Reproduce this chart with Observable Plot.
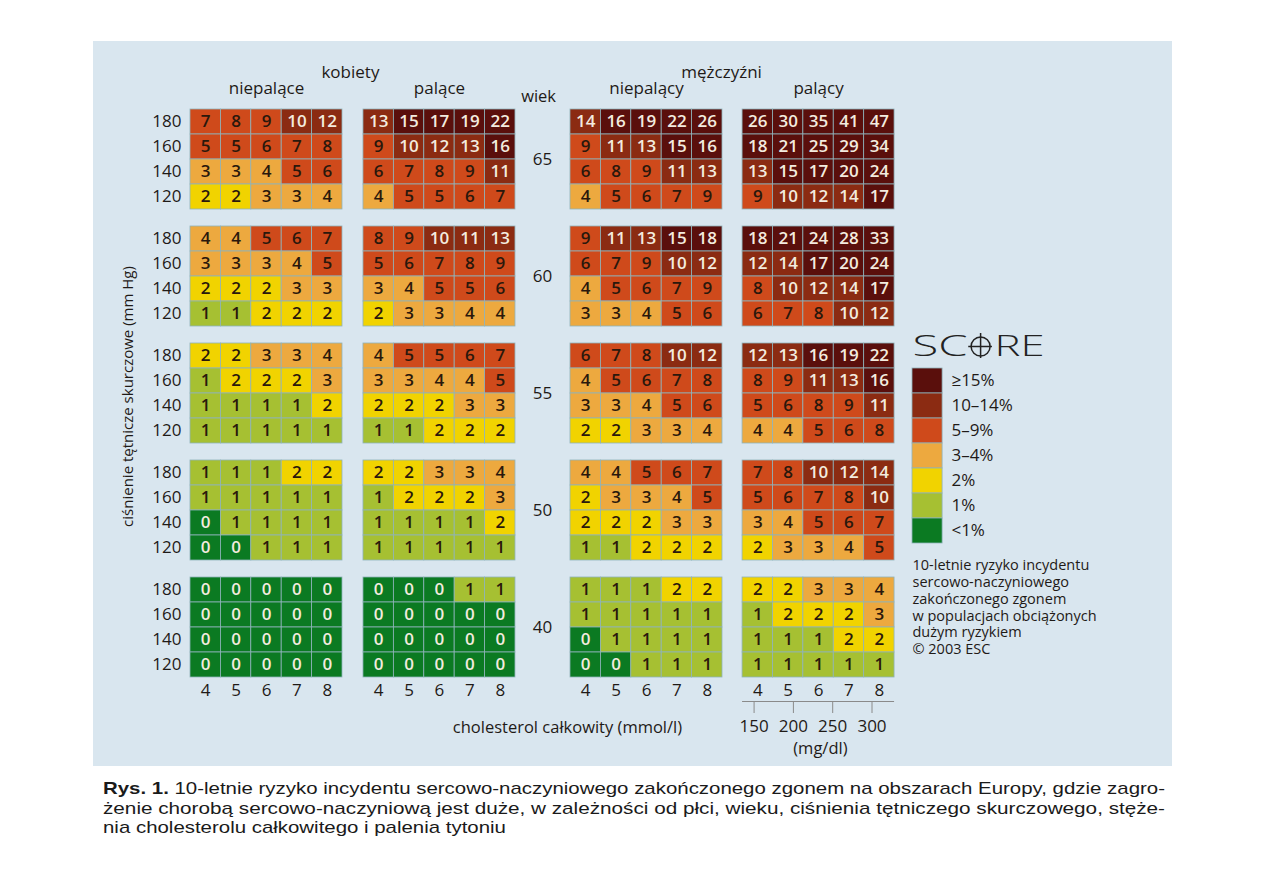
<!DOCTYPE html>
<html><head><meta charset="utf-8">
<script src="https://cdn.jsdelivr.net/npm/d3@7"></script>
<script src="https://cdn.jsdelivr.net/npm/@observablehq/plot@0.6"></script>
<style>
body{margin:0;background:#fff;width:1263px;height:893px;position:relative;overflow:hidden;font-family:"Open Sans",sans-serif}
#panel{position:absolute;left:93px;top:41px;width:1079px;height:725px;background:#d9e6ef}
#caption{position:absolute;left:0;top:770px}
</style></head><body>
<div id="panel"></div>
<svg id="caption" width="1263" height="90">
<g font-family="'Liberation Sans','Arial',sans-serif" font-size="17" fill="#1a1a1a">
<text id="c1" x="103" y="24"><tspan font-weight="bold">Rys. 1.</tspan> 10-letnie ryzyko incydentu sercowo-naczyniowego zakończonego zgonem na obszarach Europy, gdzie zagro-</text>
<text id="c2" x="103" y="44">żenie chorobą sercowo-naczyniową jest duże, w zależności od płci, wieku, ciśnienia tętniczego skurczowego, stęże-</text>
<text id="c3" x="103" y="63">nia cholesterolu całkowitego i palenia tytoniu</text>
</g></svg>
<script>
// ---- data ----
const ages = [65, 60, 55, 50, 40];
const sbp = [180, 160, 140, 120];
const chol = [4, 5, 6, 7, 8];
const groupTitles = ["niepalące", "palące", "niepalący", "palący"];
const sexTitles = ["kobiety", "mężczyźni"];

const womenNonSmoking = [
  [[7,8,9,10,12],[5,5,6,7,8],[3,3,4,5,6],[2,2,3,3,4]],
  [[4,4,5,6,7],[3,3,3,4,5],[2,2,2,3,3],[1,1,2,2,2]],
  [[2,2,3,3,4],[1,2,2,2,3],[1,1,1,1,2],[1,1,1,1,1]],
  [[1,1,1,2,2],[1,1,1,1,1],[0,1,1,1,1],[0,0,1,1,1]],
  [[0,0,0,0,0],[0,0,0,0,0],[0,0,0,0,0],[0,0,0,0,0]]
];
const womenSmoking = [
  [[13,15,17,19,22],[9,10,12,13,16],[6,7,8,9,11],[4,5,5,6,7]],
  [[8,9,10,11,13],[5,6,7,8,9],[3,4,5,5,6],[2,3,3,4,4]],
  [[4,5,5,6,7],[3,3,4,4,5],[2,2,2,3,3],[1,1,2,2,2]],
  [[2,2,3,3,4],[1,2,2,2,3],[1,1,1,1,2],[1,1,1,1,1]],
  [[0,0,0,1,1],[0,0,0,0,0],[0,0,0,0,0],[0,0,0,0,0]]
];
const menNonSmoking = [
  [[14,16,19,22,26],[9,11,13,15,16],[6,8,9,11,13],[4,5,6,7,9]],
  [[9,11,13,15,18],[6,7,9,10,12],[4,5,6,7,9],[3,3,4,5,6]],
  [[6,7,8,10,12],[4,5,6,7,8],[3,3,4,5,6],[2,2,3,3,4]],
  [[4,4,5,6,7],[2,3,3,4,5],[2,2,2,3,3],[1,1,2,2,2]],
  [[1,1,1,2,2],[1,1,1,1,1],[0,1,1,1,1],[0,0,1,1,1]]
];
const menSmoking = [
  [[26,30,35,41,47],[18,21,25,29,34],[13,15,17,20,24],[9,10,12,14,17]],
  [[18,21,24,28,33],[12,14,17,20,24],[8,10,12,14,17],[6,7,8,10,12]],
  [[12,13,16,19,22],[8,9,11,13,16],[5,6,8,9,11],[4,4,5,6,8]],
  [[7,8,10,12,14],[5,6,7,8,10],[3,4,5,6,7],[2,3,3,4,5]],
  [[2,2,3,3,4],[1,2,2,2,3],[1,1,1,2,2],[1,1,1,1,1]]
];

const riskThresholds = [1, 2, 3, 5, 10, 15];
const riskColors = ["#0b7a22", "#a6c032", "#f1d300", "#eda93f", "#cf4a1b", "#8b2b12", "#5a0f0c"];
const legendLabels = ["≥15%", "10–14%", "5–9%", "3–4%", "2%", "1%", "<1%"];
const legendValues = [15, 10, 5, 3, 2, 1, 0];
const mgdlTicks = [150, 200, 250, 300];
const mmolPerMgdl = 1 / 38.67;
const legendText = "10-letnie ryzyko incydentu\nsercowo-naczyniowego\nzakończonego zgonem\nw populacjach obciążonych\ndużym ryzykiem\n© 2003 ESC";

// ---- layout (in cell units) ----
const panelX = [0, 5.69, 12.5, 18.16];
const blockY = [0, 4.68, 9.36, 14.04, 18.72];

const tables = [womenNonSmoking, womenSmoking, menNonSmoking, menSmoking];
const cells = [];
tables.forEach((t, g) => t.forEach((block, a) => block.forEach((row, r) => row.forEach((v, c) =>
  cells.push({g, a, r, c, value: v, age: ages[a], sbp: sbp[r], chol: chol[c]})))));
const isLight = d => d.value >= 10 || d.value === 0;

const sbpLabels = [];
ages.forEach((age, a) => sbp.forEach((s, r) => sbpLabels.push({a, r, s})));
const cholLabels = [];
panelX.forEach((px, g) => chol.forEach((c, i) => cholLabels.push({g, i, c})));
const cholStart = chol[0];

const cx = d => panelX[d.g] + d.c + 0.5;
const cy = d => blockY[d.a] + d.r + 0.5;
const font = "'Open Sans', sans-serif";
const dark = "#1f1a17";

const chart = Plot.plot({
  width: 1079, height: 725, margin: 0,
  style: {background: "transparent", fontFamily: font},
  x: {domain: [-97 / 30.4, (1079 - 97) / 30.4], axis: null},
  y: {domain: [-68 / 25, (725 - 68) / 25], reverse: true, axis: null},
  color: {type: "threshold", domain: riskThresholds, range: riskColors},
  marks: [
    Plot.rect(cells, {
      x1: d => panelX[d.g] + d.c, x2: d => panelX[d.g] + d.c + 1,
      y1: d => blockY[d.a] + d.r, y2: d => blockY[d.a] + d.r + 1,
      fill: "value", stroke: "#8fb3bb", strokeWidth: 0.8
    }),
    Plot.text(cells.filter(isLight), {x: cx, y: cy, text: d => String(d.value), fill: "#f3ebdf", fontSize: 17, fontWeight: 600}),
    Plot.text(cells.filter(d => !isLight(d)), {x: cx, y: cy, text: d => String(d.value), fill: "#2a180c", fontSize: 17, fontWeight: 600}),
    // SBP labels
    Plot.text(sbpLabels, {x: -0.3, y: d => blockY[d.a] + d.r + 0.5, text: d => String(d.s), textAnchor: "end", fontSize: 17, fill: dark}),
    // age labels
    Plot.text(ages, {x: 11.58, y: (d, i) => blockY[i] + 2, text: d => String(d), fontSize: 17, fill: dark}),
    Plot.text(["wiek"], {x: 11.45, y: -0.52, text: d => d, fontSize: 16.5, fill: dark}),
    // group titles
    Plot.text(groupTitles, {x: (d, i) => panelX[i] + 2.5, y: -0.84, text: d => d, fontSize: 17, fill: dark}),
    Plot.text(sexTitles, {x: (d, i) => [5.26, 17.47][i], y: -1.48, text: d => d, fontSize: 17, fill: dark}),
    // cholesterol labels
    Plot.text(cholLabels, {x: d => panelX[d.g] + d.i + 0.5, y: 23.24, text: d => String(d.c), fontSize: 17, fill: dark}),
    Plot.text(["cholesterol całkowity (mmol/l)"], {x: 12.4, y: 24.72, text: d => d, fontSize: 16.5, fill: dark}),
    // mg/dl axis
    Plot.ruleY([23.68], {x1: panelX[3], x2: panelX[3] + 5, stroke: "#8a8a8a", strokeWidth: 1}),
    Plot.ruleX(mgdlTicks, {x: d => panelX[3] + d * mmolPerMgdl - cholStart + 0.5, y1: 23.68, y2: 24.16, stroke: "#8a8a8a", strokeWidth: 1}),
    Plot.text(mgdlTicks, {x: d => panelX[3] + d * mmolPerMgdl - cholStart + 0.5, y: 24.68, text: d => String(d), fontSize: 17, fill: dark}),
    Plot.text(["(mg/dl)"], {x: 20.72, y: 25.56, text: d => d, fontSize: 16.5, fill: dark}),
    // y title
    Plot.text(["ciśnienie tętnicze skurczowe (mm Hg)"], {x: -2.04, y: 11.48, text: d => d, rotate: -90, fontSize: 15, fill: dark}),
    // legend
    Plot.text(["SC"], {x: 23.75, y: 9.48, text: d => d, textAnchor: "start", fontSize: 30, fontWeight: 300, fill: "#222"}),
    Plot.dot([0], {x: 25.99, y: 9.48, r: 9.5, stroke: "#222", strokeWidth: 1.5, fill: "none"}),
    Plot.ruleY([9.48], {x1: 25.6, x2: 26.38, stroke: "#222", strokeWidth: 1.5}),
    Plot.ruleX([25.99], {y1: 8.96, y2: 9.96, stroke: "#222", strokeWidth: 1.5}),
    Plot.text(["RE"], {x: 26.45, y: 9.48, text: d => d, textAnchor: "start", fontSize: 30, fontWeight: 300, fill: "#222"}),
    Plot.rect(legendValues, {x1: 23.75, x2: 24.74, y1: (d, i) => 10.36 + i, y2: (d, i) => 11.36 + i, fill: d => d, stroke: "#8fb3bb", strokeWidth: 0.8}),
    Plot.text(legendLabels, {x: 25.03, y: (d, i) => 10.86 + i, text: d => d, textAnchor: "start", fontSize: 17, fill: dark}),
    Plot.text([legendText], {x: 23.75, y: 17.95, text: d => d, textAnchor: "start", lineAnchor: "top", lineHeight: 1.16, fontSize: 14.5, fill: dark})
  ]
});
document.getElementById("panel").appendChild(chart);

d3.select(chart).selectAll("text").filter(function () { return this.textContent === "SC"; })
  .attr("textLength", 55).attr("lengthAdjust", "spacingAndGlyphs");
d3.select(chart).selectAll("text").filter(function () { return this.textContent === "RE"; })
  .attr("textLength", 50).attr("lengthAdjust", "spacingAndGlyphs");

// caption justification
const c1 = document.getElementById("c1"), c2 = document.getElementById("c2"), c3 = document.getElementById("c3");
const ratio = 1062 / c1.getComputedTextLength();
c3.setAttribute("textLength", c3.getComputedTextLength() * ratio);
c3.setAttribute("lengthAdjust", "spacingAndGlyphs");
[c1, c2].forEach(t => { t.setAttribute("textLength", 1062); t.setAttribute("lengthAdjust", "spacingAndGlyphs"); });
</script>
</body></html>
